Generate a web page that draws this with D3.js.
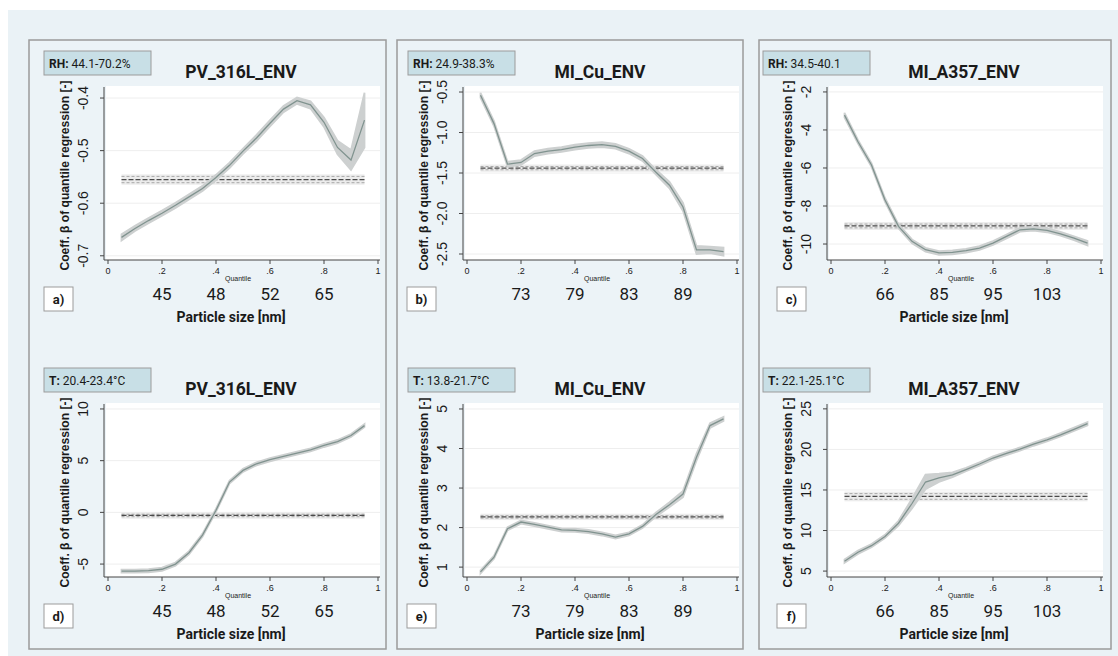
<!DOCTYPE html>
<html>
<head>
<meta charset="utf-8">
<title>Quantile regression coefficients</title>
<script src="https://cdn.jsdelivr.net/npm/d3@7"></script>
<style>
body{margin:0;background:#fff;}
text{fill:#1a1a1a;}
</style>
</head>
<body>
<svg id="svg" width="1118" height="656"></svg>
<script>
// quantiles of the regression
var quantiles = [0.05,0.10,0.15,0.20,0.25,0.30,0.35,0.40,0.45,0.50,0.55,0.60,0.65,0.70,0.75,0.80,0.85,0.90,0.95];

// coefficient beta per quantile, and half width of its confidence band
var coefA = [-0.665,-0.648,-0.633,-0.619,-0.604,-0.588,-0.572,-0.551,-0.528,-0.501,-0.476,-0.448,-0.421,-0.405,-0.413,-0.446,-0.494,-0.518,-0.442];
var ciA   = [0.006,0.005,0.005,0.005,0.005,0.005,0.005,0.005,0.005,0.005,0.006,0.006,0.006,0.006,0.007,0.009,0.013,0.019,0.052];
var coefB = [-0.54,-0.89,-1.39,-1.37,-1.26,-1.23,-1.21,-1.18,-1.16,-1.15,-1.17,-1.23,-1.32,-1.49,-1.65,-1.92,-2.45,-2.45,-2.47];
var ciB   = [0.03,0.03,0.03,0.03,0.03,0.03,0.03,0.03,0.03,0.03,0.03,0.03,0.03,0.03,0.04,0.05,0.05,0.04,0.05];
var coefC = [-3.22,-4.62,-5.84,-7.68,-9.07,-9.86,-10.30,-10.47,-10.44,-10.35,-10.21,-9.95,-9.60,-9.25,-9.20,-9.28,-9.46,-9.69,-9.95];
var ciC   = [0.12,0.10,0.10,0.10,0.10,0.10,0.10,0.10,0.10,0.10,0.10,0.10,0.10,0.10,0.10,0.10,0.10,0.10,0.12];
var coefD = [-5.68,-5.68,-5.64,-5.50,-5.00,-3.90,-2.20,0.20,2.93,4.06,4.70,5.09,5.41,5.73,6.05,6.47,6.85,7.43,8.39];
var ciD   = [0.15,0.15,0.15,0.15,0.15,0.15,0.15,0.15,0.15,0.15,0.15,0.15,0.15,0.15,0.15,0.15,0.15,0.15,0.15];
var coefE = [0.88,1.25,1.97,2.14,2.08,2.01,1.94,1.93,1.90,1.84,1.76,1.84,2.03,2.33,2.58,2.85,3.78,4.58,4.75];
var ciE   = [0.04,0.04,0.04,0.04,0.04,0.04,0.04,0.04,0.04,0.04,0.04,0.04,0.04,0.05,0.06,0.08,0.09,0.06,0.05];
var coefF = [6.22,7.32,8.13,9.27,10.9,13.33,15.98,16.5,16.87,17.52,18.2,18.94,19.5,20.04,20.65,21.18,21.8,22.48,23.17];
var ciF   = [0.2,0.2,0.2,0.2,0.3,0.6,0.9,0.5,0.3,0.2,0.2,0.2,0.2,0.2,0.2,0.2,0.2,0.2,0.2];

// OLS estimate and its confidence interval [estimate, low, high]
var olsA = [-0.555,-0.561,-0.549];
var olsB = [-1.44,-1.46,-1.42];
var olsC = [-9.05,-9.15,-8.95];
var olsD = [-0.30,-0.42,-0.18];
var olsE = [2.27,2.24,2.30];
var olsF = [14.2,13.85,14.55];

// y axis range and ticks
var yDomA = [-0.708,-0.379], yTicksA = [-0.7,-0.6,-0.5,-0.4];
var yDomB = [-2.574,-0.438], yTicksB = [-2.5,-2.0,-1.5,-1.0,-0.5];
var yDomC = [-10.84,-1.74],  yTicksC = [-10,-8,-6,-4,-2];
var yDomD = [-6.25,10.48],   yTicksD = [-5,0,5,10];
var yDomE = [0.75,5.126],    yTicksE = [1,2,3,4,5];
var yDomF = [4.27,25.6],     yTicksF = [5,10,15,20,25];

var xTicks = [0,0.2,0.4,0.6,0.8,1];
var xTickLabels = ["0",".2",".4",".6",".8","1"];
var sizeQuantiles = [0.2,0.4,0.6,0.8];
var sizesPV = ["45","48","52","65"];
var sizesCu = ["73","79","83","89"];
var sizesA357 = ["66","85","95","103"];

var titles = ["PV_316L_ENV","MI_Cu_ENV","MI_A357_ENV","PV_316L_ENV","MI_Cu_ENV","MI_A357_ENV"];
var envKeys = ["RH:","RH:","RH:","T:","T:","T:"];
var envRanges = ["44.1-70.2%","24.9-38.3%","34.5-40.1","20.4-23.4°C","13.8-21.7°C","22.1-25.1°C"];
var letters = ["a)","b)","c)","d)","e)","f)"];

var panels = [
  {coef:coefA, ci:ciA, ols:olsA, dom:yDomA, ticks:yTicksA, dec:1, sizes:sizesPV, xTitle:true},
  {coef:coefB, ci:ciB, ols:olsB, dom:yDomB, ticks:yTicksB, dec:1, sizes:sizesCu, xTitle:false},
  {coef:coefC, ci:ciC, ols:olsC, dom:yDomC, ticks:yTicksC, dec:0, sizes:sizesA357, xTitle:true},
  {coef:coefD, ci:ciD, ols:olsD, dom:yDomD, ticks:yTicksD, dec:0, sizes:sizesPV, xTitle:true},
  {coef:coefE, ci:ciE, ols:olsE, dom:yDomE, ticks:yTicksE, dec:0, sizes:sizesCu, xTitle:true},
  {coef:coefF, ci:ciF, ols:olsF, dom:yDomF, ticks:yTicksF, dec:0, sizes:sizesA357, xTitle:true}
];

var svg = d3.select("#svg");
var bg = "#eaf2f6";
svg.append("rect").attr("x",8).attr("y",10).attr("width",1110).attr("height",646).attr("fill",bg);

// column frames
var frameX = [[29,386],[397,743],[759,1111]];
frameX.forEach(function(f){
  svg.append("rect").attr("x",f[0]).attr("y",40).attr("width",f[1]-f[0]).attr("height",609)
    .attr("fill","#ecf3f7").attr("stroke","#9b9b9b").attr("stroke-width",1.5);
});

var colX0 = [108,467,831];   // pixel of quantile 0
var rowTop = [87,404];
var plotH = 173;
var envBoxX = [44,408,763];
var letterX = [44,407,777];

function fmt(v,dec){ return v.toFixed(dec); }

panels.forEach(function(p,i){
  var col = i%3, row = Math.floor(i/3);
  var top = rowTop[row], bot = top+plotH;
  var x = d3.scaleLinear().domain([0,1]).range([colX0[col], colX0[col]+270]);
  var y = d3.scaleLinear().domain(p.dom).range([bot, top]);
  var axX = x(0)-4;
  var g = svg.append("g");
  var cx = (x(0)+x(1))/2;

  // plot area
  g.append("rect").attr("x",axX+2).attr("y",top-1).attr("width",x(1)+2-axX-2).attr("height",plotH+1).attr("fill","#ffffff");
  // grid
  g.selectAll(".grid").data(p.ticks).enter().append("line")
    .attr("x1",axX+2).attr("x2",x(1)+2).attr("y1",function(d){return y(d);}).attr("y2",function(d){return y(d);})
    .attr("stroke","#eeeeee").attr("stroke-width",1);

  // OLS band and lines
  var q0 = quantiles[0], q1 = quantiles[quantiles.length-1];
  g.append("rect").attr("x",x(q0)).attr("width",x(q1)-x(q0))
    .attr("y",y(p.ols[2])-2).attr("height",y(p.ols[1])-y(p.ols[2])+4).attr("fill","#ececec");
  [p.ols[1],p.ols[2]].forEach(function(v){
    g.append("line").attr("x1",x(q0)).attr("x2",x(q1)).attr("y1",y(v)).attr("y2",y(v))
      .attr("stroke","#a8a8a8").attr("stroke-width",1).attr("stroke-dasharray","3,2");
  });
  g.append("line").attr("x1",x(q0)).attr("x2",x(q1)).attr("y1",y(p.ols[0])).attr("y2",y(p.ols[0]))
    .attr("stroke","#4a4a4a").attr("stroke-width",1.3).attr("stroke-dasharray","5,2");

  // quantile band and line
  var area = d3.area().x(function(d,k){return x(quantiles[k]);})
    .y0(function(d,k){return y(d-p.ci[k]);}).y1(function(d,k){return y(d+p.ci[k]);});
  g.append("path").attr("d",area(p.coef)).attr("fill","#cdd0d0").attr("stroke","#cdd0d0").attr("stroke-width",1.8);
  var line = d3.line().x(function(d,k){return x(quantiles[k]);}).y(function(d){return y(d);});
  g.append("path").attr("d",line(p.coef)).attr("fill","none").attr("stroke","#80938f").attr("stroke-width",1.3);

  // axes
  g.append("line").attr("x1",axX).attr("x2",axX).attr("y1",top).attr("y2",bot).attr("stroke","#444");
  g.append("line").attr("x1",axX).attr("x2",x(1)+2).attr("y1",bot).attr("y2",bot).attr("stroke","#444");
  g.selectAll(".yt").data(p.ticks).enter().append("line")
    .attr("x1",axX-4).attr("x2",axX).attr("y1",function(d){return y(d);}).attr("y2",function(d){return y(d);})
    .attr("stroke","#444");
  g.selectAll(".yl").data(p.ticks).enter().append("text")
    .attr("transform",function(d){return "translate("+(axX-16)+","+y(d)+") rotate(-90)";})
    .attr("text-anchor","middle").style("font-family","Liberation Sans, Arial").style("font-size","14px")
    .text(function(d){return fmt(d,p.dec);});
  g.selectAll(".xt").data(xTicks).enter().append("line")
    .attr("x1",function(d){return x(d);}).attr("x2",function(d){return x(d);}).attr("y1",bot).attr("y2",bot+4)
    .attr("stroke","#444");
  g.selectAll(".xl").data(xTicks).enter().append("text")
    .attr("x",function(d){return x(d);}).attr("y",bot+14).attr("text-anchor","middle")
    .style("font-family","Liberation Sans, Arial").style("font-size","9px")
    .text(function(d,k){return xTickLabels[k];});
  g.append("text").attr("x",cx-5).attr("y",bot+21).attr("text-anchor","middle")
    .style("font-family","Liberation Sans, Arial").style("font-size","7px").text("Quantile");

  // y title
  g.append("text").attr("transform","translate("+(axX-35)+","+((top+bot)/2+2)+") rotate(-90)")
    .attr("text-anchor","middle").style("font-family","Liberation Sans, Arial").style("font-size","13px")
    .style("font-weight","bold").attr("textLength",190).attr("lengthAdjust","spacingAndGlyphs")
    .text("Coeff. \u03b2 of quantile regression [-]");

  // particle sizes
  g.selectAll(".sz").data(p.sizes).enter().append("text")
    .attr("x",function(d,k){return x(sizeQuantiles[k]);}).attr("y",bot+40).attr("text-anchor","middle")
    .style("font-family","Roboto").style("font-size","17px").text(function(d){return d;});
  if(p.xTitle){
    g.append("text").attr("x",cx-12).attr("y",bot+62).attr("text-anchor","middle")
      .style("font-family","Roboto").style("font-size","14px").style("font-weight","bold").text("Particle size [nm]");
  }

  // title
  g.append("text").attr("x",cx-2).attr("y",top-9).attr("text-anchor","middle")
    .style("font-family","Roboto").style("font-size","17.5px").style("font-weight","bold").text(titles[i]);

  // environment box
  g.append("rect").attr("x",envBoxX[col]).attr("y",top-36).attr("width",107).attr("height",24)
    .attr("fill","#c8dfe6").attr("stroke","#9b9b9b").attr("stroke-width",1);
  var t = g.append("text").attr("x",envBoxX[col]+5).attr("y",top-19)
    .style("font-family","Roboto").style("font-size","12px");
  t.append("tspan").style("font-weight","bold").text(envKeys[i]);
  t.append("tspan").text(" "+envRanges[i]);

  // letter box
  g.append("rect").attr("x",letterX[col]).attr("y",bot+27).attr("width",29).attr("height",24)
    .attr("fill","#ffffff").attr("stroke","#9b9b9b").attr("stroke-width",1);
  g.append("text").attr("x",letterX[col]+14.5).attr("y",bot+44).attr("text-anchor","middle")
    .style("font-family","Roboto").style("font-size","13px").style("font-weight","bold").text(letters[i]);
});
</script>
</body>
</html>
